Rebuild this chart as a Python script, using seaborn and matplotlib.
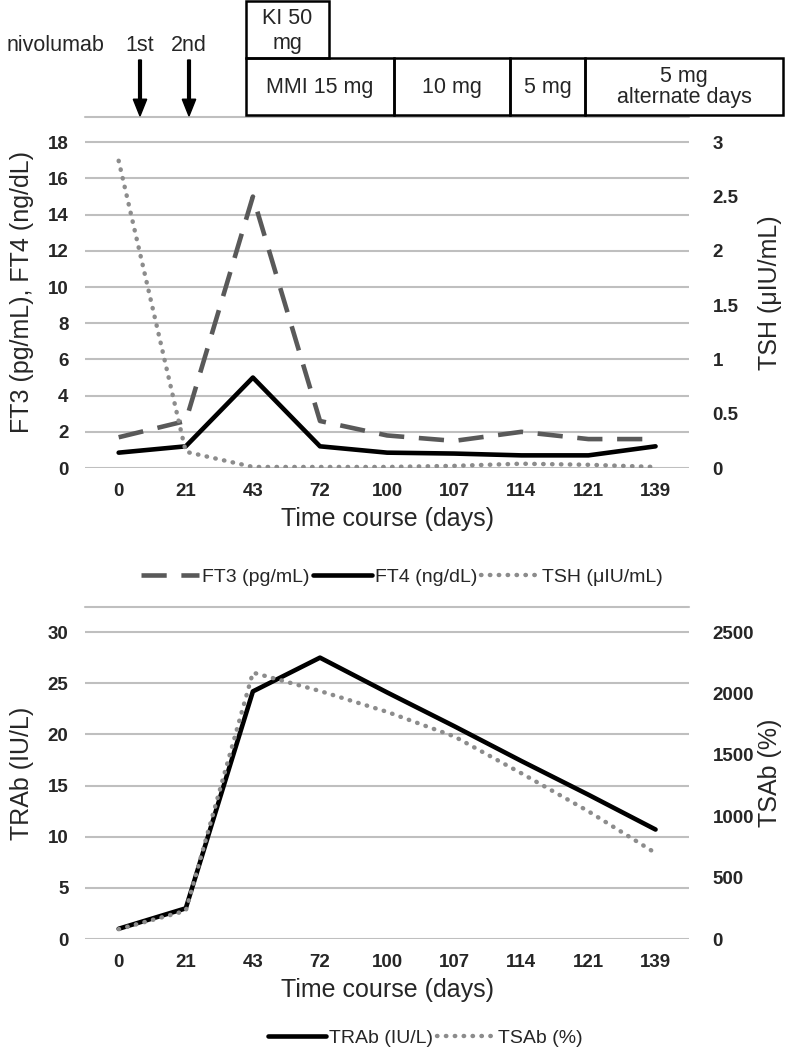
import numpy as np
import pandas as pd
import matplotlib
matplotlib.use("Agg")
import matplotlib.pyplot as plt
from matplotlib.patches import Rectangle, FancyArrow
import seaborn as sns

days = ["0", "21", "43", "72", "100", "107", "114", "121", "139"]
ft3 = [1.7, 2.6, 15.0, 2.6, 1.8, 1.5, 2.0, 1.6, 1.6]
ft4 = [0.85, 1.2, 5.0, 1.2, 0.85, 0.8, 0.7, 0.7, 1.2]
tsh = [2.83, 0.15, 0.01, 0.01, 0.01, 0.02, 0.04, 0.03, 0.01]
trab = [1.0, 3.0, 24.2, 27.5, 24.1, 20.8, 17.4, 14.1, 10.7]
tsab = [80, 230, 2170, 2020, 1850, 1650, 1350, 1040, 700]

sns.set_theme(style="white")
plt.rcParams['font.family'] = ['Liberation Sans', 'DejaVu Sans']

pos = np.arange(len(days))
grid_c = "#bfbfbf"
tick_fs = 13.5
lab_fs = 18

fig = plt.figure(figsize=(7.88, 10.48), dpi=100)

def setup(ax, ytop, yticks):
    ax.set_xlim(-0.5, len(days) - 0.5)
    ax.set_ylim(0, ytop)
    ax.set_yticks(yticks)
    ax.yaxis.grid(True, color=grid_c, lw=1.5)
    ax.axhline(ytop, color=grid_c, lw=1.5, clip_on=False)
    for s in ax.spines.values():
        s.set_visible(False)
    ax.set_xticks(pos)
    ax.set_xticklabels(days)
    ax.tick_params(axis="both", length=0, labelsize=tick_fs)
    ax.tick_params(axis="x", pad=11)
    ax.tick_params(axis="y", pad=12)
    for t in ax.get_xticklabels() + ax.get_yticklabels():
        t.set_fontweight("bold")
    ax.set_xlabel("Time course (days)", fontsize=lab_fs, labelpad=5)

def right_axis(ax):
    for s in ax.spines.values():
        s.set_visible(False)
    ax.tick_params(axis="y", length=0, labelsize=tick_fs, pad=17)
    for t in ax.get_yticklabels():
        t.set_fontweight("bold")

def place_labels(axl, axr):
    axl.yaxis.label.set_va("center")
    axl.yaxis.set_label_coords(-0.104, 0.5)
    axr.yaxis.label.set_va("center")
    axr.yaxis.set_label_coords(1.134, 0.5)

# ---- top panel: thyroid hormones
ax1 = fig.add_axes([0.108, 0.5534, 0.7665, 0.335])
setup(ax1, 19.4, np.arange(0, 19, 2))
sns.lineplot(x=pos, y=ft3, ax=ax1, color="#595959", lw=3.3,
             linestyle=(0, (5.5, 3.2)), label="FT3 (pg/mL)", legend=False)
sns.lineplot(x=pos, y=ft4, ax=ax1, color="black", lw=3.3,
             label="FT4 (ng/dL)", legend=False)
ax1.set_ylabel("FT3 (pg/mL), FT4 (ng/dL)", fontsize=lab_fs)

ax1r = ax1.twinx()
ax1r.set_ylim(0, 19.4 / 6)
ax1r.set_yticks([0, 0.5, 1, 1.5, 2, 2.5, 3])
ax1r.set_yticklabels(["0", "0.5", "1", "1.5", "2", "2.5", "3"])
right_axis(ax1r)
sns.lineplot(x=pos, y=tsh, ax=ax1r, color="#8c8c8c", lw=3.2,
             linestyle=(0, (0.1, 1.9)), dash_capstyle="round",
             label="TSH (\u03bcIU/mL)", legend=False)
ax1r.set_ylabel("TSH (\u03bcIU/mL)", fontsize=lab_fs)
place_labels(ax1, ax1r)

h1, l1 = ax1.get_legend_handles_labels()
h2, l2 = ax1r.get_legend_handles_labels()
fig.legend(h1 + h2, l1 + l2, loc="center", bbox_to_anchor=(0.51, 0.449),
           ncol=3, frameon=False, fontsize=14, handlelength=3.0,
           handletextpad=0.15, columnspacing=0.2)

# ---- bottom panel: antibodies
ax2 = fig.add_axes([0.108, 0.104, 0.7665, 0.3168])
setup(ax2, 32.45, np.arange(0, 31, 5))
sns.lineplot(x=pos, y=trab, ax=ax2, color="black", lw=3.3,
             label="TRAb (IU/L)", legend=False)
ax2.set_ylabel("TRAb (IU/L)", fontsize=lab_fs)

ax2r = ax2.twinx()
ax2r.set_ylim(0, 32.45 * 2500 / 30)
ax2r.set_yticks(np.arange(0, 2501, 500))
right_axis(ax2r)
sns.lineplot(x=pos, y=tsab, ax=ax2r, color="#8c8c8c", lw=3.2,
             linestyle=(0, (0.1, 1.9)), dash_capstyle="round",
             label="TSAb (%)", legend=False)
ax2r.set_ylabel("TSAb (%)", fontsize=lab_fs)
place_labels(ax2, ax2r)

h1, l1 = ax2.get_legend_handles_labels()
h2, l2 = ax2r.get_legend_handles_labels()
fig.legend(h1 + h2, l1 + l2, loc="center", bbox_to_anchor=(0.54, 0.0095),
           ncol=2, frameon=False, fontsize=14, handlelength=3.0,
           handletextpad=0.15, columnspacing=0.2)

# ---- treatment timeline at the top
W, H = 788.0, 1048.0
def fx(x):
    return x / W
def fy(y):
    return 1 - y / H

def box(x0, x1, y0, y1):
    fig.patches.append(Rectangle((fx(x0), fy(y1)), fx(x1) - fx(x0), fy(y0) - fy(y1),
                                 transform=fig.transFigure, fill=False,
                                 ec="black", lw=1.8))

box(246, 329, 1, 58)
fig.text(fx(287), fy(18), "KI 50", ha="center", va="center", fontsize=15.5)
fig.text(fx(287), fy(43), "mg", ha="center", va="center", fontsize=15.5)

segments = [(246, 394, "MMI 15 mg"), (394, 510, "10 mg"), (510, 585, "5 mg"),
            (585, 783, "5 mg\nalternate days")]
for x0, x1, txt in segments:
    box(x0, x1, 58, 115)
    fig.text(fx((x0 + x1) / 2), fy(87), txt, ha="center", va="center",
             fontsize=15.5, linespacing=1.0)

fig.text(fx(104), fy(45), "nivolumab", ha="right", va="center", fontsize=15.5)
for x, txt in [(140, "1st"), (189, "2nd")]:
    fig.text(fx(x), fy(45), txt, ha="center", va="center", fontsize=15.5)
    fig.patches.append(FancyArrow(fx(x), fy(60), 0, fy(116) - fy(60),
                                  width=0.0035, head_width=0.017,
                                  head_length=0.016, length_includes_head=True,
                                  color="black", transform=fig.transFigure))

fig.savefig("out.png", dpi=100)
